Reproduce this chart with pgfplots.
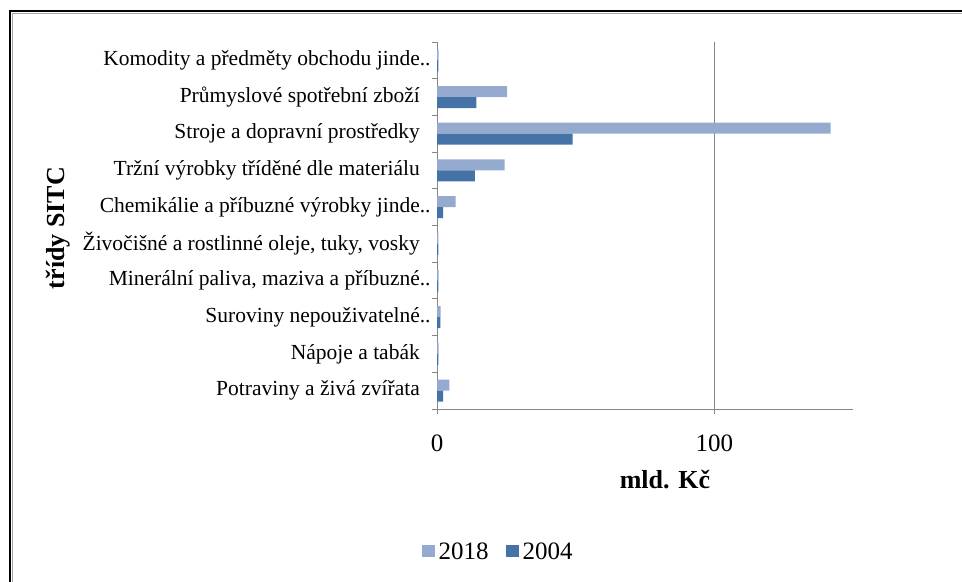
\documentclass[border=0pt]{standalone}
\usepackage{pgfplots}
\pgfplotsset{compat=1.18}
\usepackage{fontspec}
\setmainfont{Liberation Serif}
\definecolor{c2018}{RGB}{149,170,207}
\definecolor{c2004}{RGB}{69,114,167}
\definecolor{axgray}{RGB}{134,134,134}
\begin{document}
\begin{tikzpicture}[x=1bp,y=1bp]
\path[use as bounding box] (0,0) rectangle (962,582);
% frame of the chart area
\draw[black, line width=2.5bp] (10,-5) -- (10,571) -- (970,571);
\draw[black!35, line width=1.5bp] (12.5,-5) -- (12.5,568.5) -- (970,568.5);
\begin{axis}[
  at={(437bp,173bp)}, anchor=south west,
  scale only axis, width=416bp, height=367bp,
  xbar, bar width=11bp,
  xmin=0, xmax=150, ymin=-0.5, ymax=9.5,
  axis x line*=bottom, axis y line*=left,
  axis line style={axgray, line width=0.8bp, -},
  xtick={0,100},
  ytick={-0.5,0.5,...,9.5},
  y tick label as interval,
  yticklabels={Potraviny a živá zvířata, Nápoje a tabák, Suroviny nepouživatelné\rlap{..},
    Minerální paliva{,} maziva a příbuzné\rlap{..}, {Živočišné a rostlinné oleje, tuky, vosky},
    Chemikálie a příbuzné výrobky jinde\rlap{..}, Tržní výrobky tříděné dle materiálu,
    Stroje a dopravní prostředky, Průmyslové spotřební zboží,
    Komodity a předměty obchodu jinde\rlap{..}},
  tick align=outside, major tick length=5bp,
  tick style={axgray, line width=0.8bp},
  xmajorgrids, grid style={axgray, line width=0.8bp},
  /pgf/number format/assume math mode=true,
  xticklabel style={font=\fontsize{25bp}{28bp}\selectfont, anchor=base, inner sep=0pt, yshift=-38bp},
  yticklabel style={font=\fontsize{21.5bp}{24bp}\selectfont, anchor=east, inner sep=0pt, xshift=-12bp},
  xlabel={\textbf{mld. Kč}},
  xlabel style={font=\fontsize{26bp}{30bp}\selectfont, at={(axis description cs:0.548,-0.193)}, anchor=center},
  ylabel={\textbf{třídy SITC}},
  ylabel style={font=\fontsize{26bp}{30bp}\selectfont, at={(axis description cs:-0.91,0.493)}, anchor=center},
  legend style={at={(axis description cs:0.146,-0.39)}, anchor=center, draw=none, fill=none,
    legend columns=2, font=\fontsize{25bp}{28bp}\selectfont,
    /tikz/every odd column/.append style={column sep=3bp},
    /tikz/every even column/.append style={column sep=16bp},
    nodes={inner sep=1bp}},
  legend image code/.code={\fill[#1] (0bp,-5bp) rectangle (13bp,7bp);},
]
% 2018
\addplot[fill=c2018, draw=none, bar shift=5.5bp] coordinates {
  (4.5,0) (0.6,1) (1.3,2) (0.6,3) (0.5,4)
  (6.7,5) (24.4,6) (141.9,7) (25.3,8) (0.6,9)
};
% 2004
\addplot[fill=c2004, draw=none, bar shift=-5.5bp] coordinates {
  (2.2,0) (0.5,1) (1.2,2) (0.5,3) (0.5,4)
  (2.2,5) (13.7,6) (48.9,7) (14.2,8) (0.5,9)
};
\legend{2018, 2004}
\end{axis}
\end{tikzpicture}
\end{document}
